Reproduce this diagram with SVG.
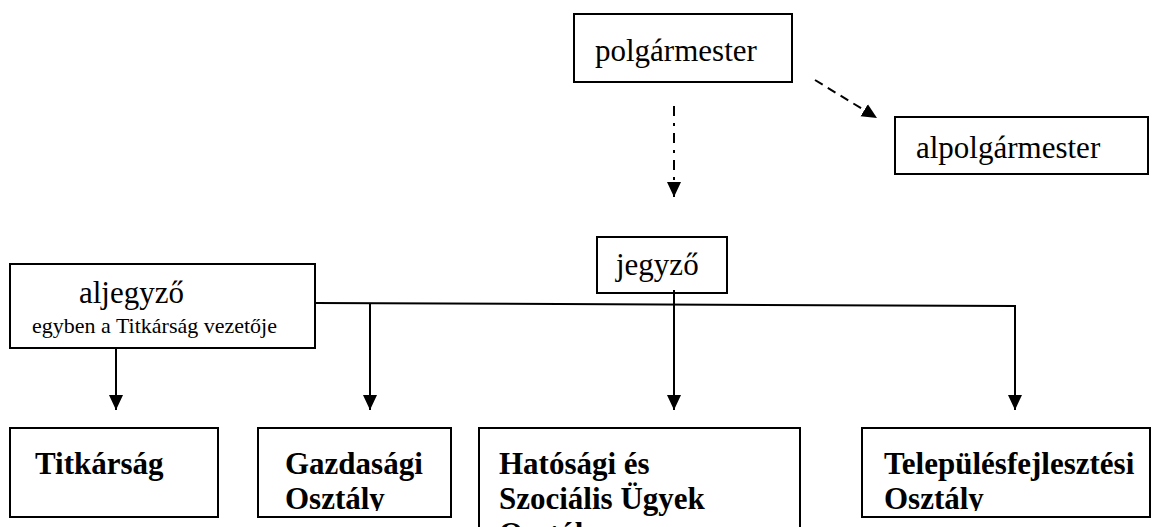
<svg xmlns="http://www.w3.org/2000/svg" width="1158" height="527" viewBox="0 0 1158 527">
<style>
.box{fill:#fff;stroke:#000;stroke-width:2}
.t{font-family:"Liberation Serif","Times New Roman",serif;font-size:31px;fill:#000}
.b{font-weight:bold}
.s{font-size:22px}
.ln{fill:none;stroke:#000;stroke-width:2}
</style>
<defs>
<marker id="ah" markerUnits="userSpaceOnUse" markerWidth="16" markerHeight="16" viewBox="0 0 16 16" refX="15" refY="8" orient="auto"><path d="M0,1 L15,8 L0,15 Z" fill="#000"/></marker>
<clipPath id="c1"><rect x="11" y="429" width="206" height="82"/></clipPath>
<clipPath id="c2"><rect x="259" y="429" width="191" height="82"/></clipPath>
<clipPath id="c3"><rect x="480" y="429" width="319" height="120"/></clipPath>
<clipPath id="c4"><rect x="863" y="429" width="286" height="82"/></clipPath>
</defs>
<rect width="1158" height="527" fill="#fff"/>
<g id="connectors">
<line class="ln" x1="815" y1="80" x2="877" y2="118" stroke-dasharray="9,6" marker-end="url(#ah)"/>
<line class="ln" x1="674" y1="106" x2="674" y2="197" stroke-dasharray="10,7,3,7" marker-end="url(#ah)"/>
<path class="ln" d="M315,303 L1015,306 L1015,410" marker-end="url(#ah)"/>
<line class="ln" x1="116" y1="347" x2="116" y2="410" marker-end="url(#ah)"/>
<line class="ln" x1="370" y1="304" x2="370" y2="410" marker-end="url(#ah)"/>
<line class="ln" x1="674" y1="291" x2="674" y2="410" marker-end="url(#ah)"/>
</g>
<g id="polgarmester">
<rect class="box" x="574" y="14" width="218" height="68"/>
<text class="t" x="595" y="61">polgármester</text>
</g>
<g id="alpolgarmester">
<rect class="box" x="895" y="117" width="253" height="57"/>
<text class="t" x="916" y="158">alpolgármester</text>
</g>
<g id="jegyzo">
<rect class="box" x="597" y="237" width="130" height="56"/>
<text class="t" x="616" y="275">jegyző</text>
</g>
<g id="aljegyzo">
<rect class="box" x="10" y="264" width="305" height="84"/>
<text class="t" x="79" y="303">aljegyző</text>
<text class="t s" x="32" y="333">egyben a Titkárság vezetője</text>
</g>
<line class="ln" x1="116" y1="347" x2="116" y2="352"/>
<line class="ln" x1="674" y1="290" x2="674" y2="295"/>
<g id="titkarsag">
<rect class="box" x="10" y="428" width="208" height="89"/>
<text class="t b" x="35" y="474" clip-path="url(#c1)">Titkárság</text>
</g>
<g id="gazdasagi">
<rect class="box" x="258" y="428" width="193" height="89"/>
<g clip-path="url(#c2)">
<text class="t b" x="285" y="474">Gazdasági</text>
<text class="t b" x="285" y="509">Osztály</text>
</g>
</g>
<g id="hatosagi">
<rect class="box" x="479" y="428" width="321" height="120"/>
<g clip-path="url(#c3)">
<text class="t b" x="499" y="474">Hatósági és</text>
<text class="t b" x="499" y="509">Szociális Ügyek</text>
<text class="t b" x="499" y="544">Osztály</text>
</g>
</g>
<g id="telepules">
<rect class="box" x="862" y="428" width="288" height="89"/>
<g clip-path="url(#c4)">
<text class="t b" x="884" y="474">Településfejlesztési</text>
<text class="t b" x="884" y="509">Osztály</text>
</g>
</g>
</svg>
